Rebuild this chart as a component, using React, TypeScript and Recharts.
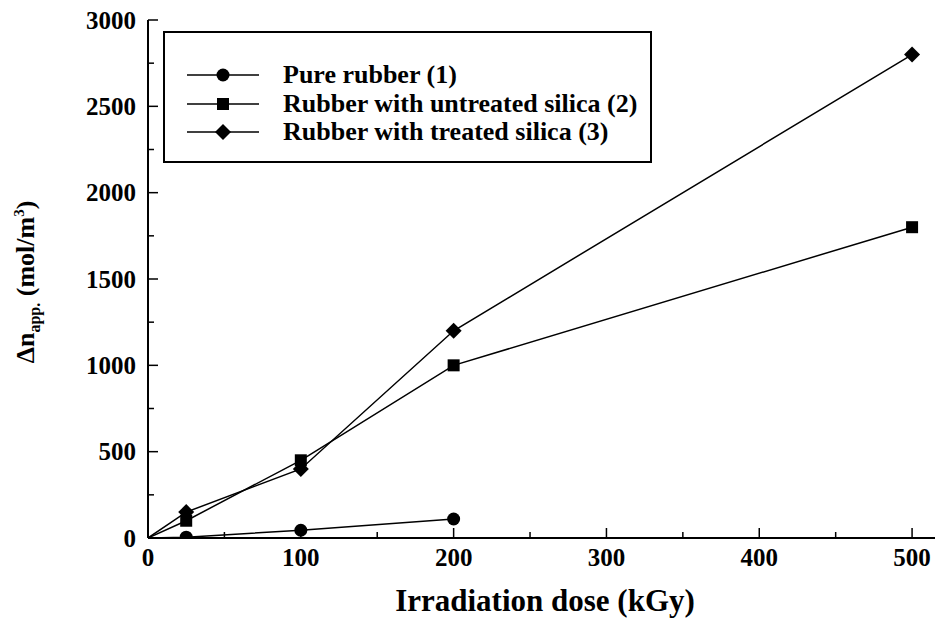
import React from 'react'
import { LineChart, Line, XAxis, YAxis } from 'recharts'

// Irradiation dose (kGy) vs apparent crosslink density
const doses = [0, 25, 100, 200, 500]
const pureRubber = [0, 5, 45, 110, null]
const untreatedSilica = [0, 100, 450, 1000, 1800]
const treatedSilica = [0, 150, 400, 1200, 2800]

const xMajorTicks = [0, 100, 200, 300, 400, 500]
const xMinorTicks = [50, 150, 250, 350, 450]
const yMajorTicks = [0, 500, 1000, 1500, 2000, 2500, 3000]
const yMinorTicks = [250, 750, 1250, 1750, 2250, 2750]

const SERIES = [
  { key: 'pure', name: 'Pure rubber (1)', marker: 'circle' },
  { key: 'untreated', name: 'Rubber with untreated silica (2)', marker: 'square' },
  { key: 'treated', name: 'Rubber with treated silica (3)', marker: 'diamond' },
]

const data = doses.map((x, i) => ({
  x,
  pure: pureRubber[i],
  untreated: untreatedSilica[i],
  treated: treatedSilica[i],
}))

const FONT = 'Liberation Serif'

function Marker({ type, cx, cy }: { type: string; cx: number; cy: number }) {
  if (type === 'circle') return <circle cx={cx} cy={cy} r={6.5} fill="#000" />
  if (type === 'square') return <rect x={cx - 6} y={cy - 6} width={12} height={12} fill="#000" />
  return <polygon points={`${cx},${cy - 8} ${cx + 8},${cy} ${cx},${cy + 8} ${cx - 8},${cy}`} fill="#000" />
}

const makeDot = (type: string) => (props: any) => {
  const { cx, cy, payload, index } = props
  if (payload.x === 0 || cx == null || cy == null) return <g key={index} />
  return <Marker key={index} type={type} cx={cx} cy={cy} />
}

function XTick(props: any) {
  const { x, y, payload } = props
  const major = xMajorTicks.includes(payload.value)
  return (
    <g>
      <line x1={x} x2={x} y1={y} y2={y - (major ? 10 : 6)} stroke="#000" strokeWidth={1.5} />
      {major && (
        <text x={x} y={y + 28} textAnchor="middle" style={{ fontFamily: FONT, fontWeight: 700, fontSize: 25 }} fill="#000">
          {payload.value}
        </text>
      )}
    </g>
  )
}

function YTick(props: any) {
  const { x, y, payload } = props
  const major = yMajorTicks.includes(payload.value)
  return (
    <g>
      <line x1={x} x2={x + (major ? 10 : 6)} y1={y} y2={y} stroke="#000" strokeWidth={1.5} />
      {major && (
        <text x={x - 12} y={y} dy="0.35em" textAnchor="end" style={{ fontFamily: FONT, fontWeight: 700, fontSize: 25 }} fill="#000">
          {payload.value}
        </text>
      )}
    </g>
  )
}

function LegendBox() {
  return (
    <div style={{
      position: 'absolute', left: 163, top: 31, width: 485, height: 100,
      border: '2px solid #000', fontFamily: FONT, fontWeight: 700, fontSize: 26, color: '#000',
      paddingTop: 28, boxSizing: 'content-box',
    }}>
      {SERIES.map((s) => (
        <div key={s.key} style={{ display: 'flex', alignItems: 'center', height: 28.5 }}>
          <svg width={118} height={20} style={{ flex: 'none' }}>
            <line x1={22} x2={94} y1={10} y2={10} stroke="#000" strokeWidth={1.5} />
            <Marker type={s.marker} cx={58} cy={10} />
          </svg>
          <span style={{ whiteSpace: 'nowrap', lineHeight: '26px' }}>{s.name}</span>
        </div>
      ))}
    </div>
  )
}

export default function App() {
  return (
    <div style={{ position: 'fixed', left: 0, top: 0, width: 940, height: 628, background: '#fff' }}>
      <LineChart width={940} height={628} data={data} margin={{ top: 20, right: 5, bottom: 0, left: 0 }}>
        <XAxis
          type="number" dataKey="x" domain={[0, 515]} allowDataOverflow
          ticks={[...xMajorTicks, ...xMinorTicks].sort((a, b) => a - b)}
          interval={0} height={90} tickSize={0} tickMargin={0} tickLine={false}
          axisLine={{ stroke: '#000', strokeWidth: 2 }} tick={<XTick />}
          label={{
            content: () => (
              <text x={545} y={611} textAnchor="middle" style={{ fontFamily: FONT, fontWeight: 700, fontSize: 31 }} fill="#000">
                Irradiation dose (kGy)
              </text>
            ),
          }}
        />
        <YAxis
          type="number" domain={[0, 3000]} allowDataOverflow
          ticks={[...yMajorTicks, ...yMinorTicks].sort((a, b) => a - b)}
          interval={0} width={148} tickSize={0} tickMargin={0} tickLine={false}
          axisLine={{ stroke: '#000', strokeWidth: 2 }} tick={<YTick />}
          label={{
            content: () => (
              <text x={34} y={282} transform="rotate(-90 34 282)" textAnchor="middle" style={{ fontFamily: FONT, fontWeight: 700, fontSize: 26 }} fill="#000">
                Δn<tspan fontSize={16} dy={6}>app.</tspan><tspan dy={-6}> (mol/m</tspan><tspan fontSize={15} dy={-10}>3</tspan><tspan dy={10}>)</tspan>
              </text>
            ),
          }}
        />
        {SERIES.map((s) => (
          <Line
            key={s.key} dataKey={s.key} name={s.name} stroke="#000" strokeWidth={1.5}
            dot={makeDot(s.marker)} activeDot={false} isAnimationActive={false} connectNulls={false}
          />
        ))}
      </LineChart>
      <LegendBox />
    </div>
  )
}
